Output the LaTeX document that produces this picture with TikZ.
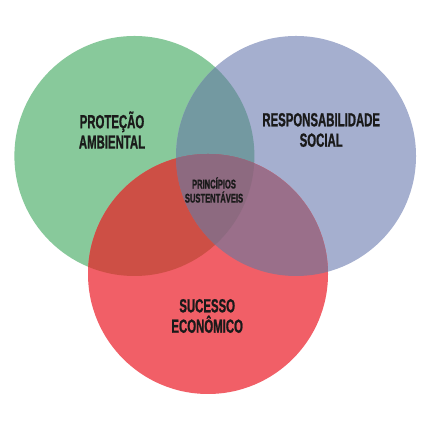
\documentclass[tikz,border=0pt]{standalone}
\usepackage{fontspec}
\setmainfont{Liberation Sans}
\newfontfamily\condfont[FakeStretch=0.6,FakeBold=1]{Liberation Sans}
\usetikzlibrary{positioning}
\definecolor{envgreen}{HTML}{88C99B}
\definecolor{socblue}{HTML}{A5AFCF}
\definecolor{ecored}{HTML}{F15F67}
\definecolor{overlapgb}{HTML}{7399A1}
\definecolor{overlapgr}{HTML}{CD4F45}
\definecolor{overlapbr}{HTML}{9A6F8A}
\definecolor{overlapall}{HTML}{8D6A80}
\definecolor{labeltext}{HTML}{1A1A1A}

\begin{document}
\begin{tikzpicture}[
    biglabel/.style={font=\condfont\bfseries\fontsize{13.5}{14.5}\selectfont, text=labeltext, align=center, inner sep=0pt},
    smalllabel/.style={font=\condfont\bfseries\fontsize{9}{10}\selectfont, text=labeltext, align=center, inner sep=0pt}
]
\useasboundingbox (0,0) rectangle (10.75,10.75);
\fill[white] (0,0) rectangle (10.75,10.75);

% centros dos circulos
\coordinate (amb) at (3.36,6.85);
\coordinate (soc) at (7.40,6.85);
\coordinate (eco) at (5.20,3.90);

% circulos base
\fill[envgreen] (amb) circle (3);
\fill[socblue] (soc) circle (3);
\fill[ecored] (eco) circle (3);

% intersecoes
\begin{scope}
    \clip (amb) circle (3);
    \fill[overlapgb] (soc) circle (3);
\end{scope}
\begin{scope}
    \clip (amb) circle (3);
    \fill[overlapgr] (eco) circle (3);
\end{scope}
\begin{scope}
    \clip (soc) circle (3);
    \fill[overlapbr] (eco) circle (3);
\end{scope}
\begin{scope}
    \clip (amb) circle (3);
    \clip (soc) circle (3);
    \fill[overlapall] (eco) circle (3);
\end{scope}

% rotulos
\node[biglabel] (protecao) at (2.80,7.50) {PROTEÇÃO\\AMBIENTAL};
\node[biglabel] (social) at (8.03,7.50) {RESPONSABILIDADE\\SOCIAL};
\node[biglabel] (sucesso) at (5.18,2.85) {SUCESSO\\ECONÔMICO};
\node[smalllabel] (principios) at (5.35,6.00) {PRINCÍPIOS\\SUSTENTÁVEIS};

\end{tikzpicture}
\end{document}
